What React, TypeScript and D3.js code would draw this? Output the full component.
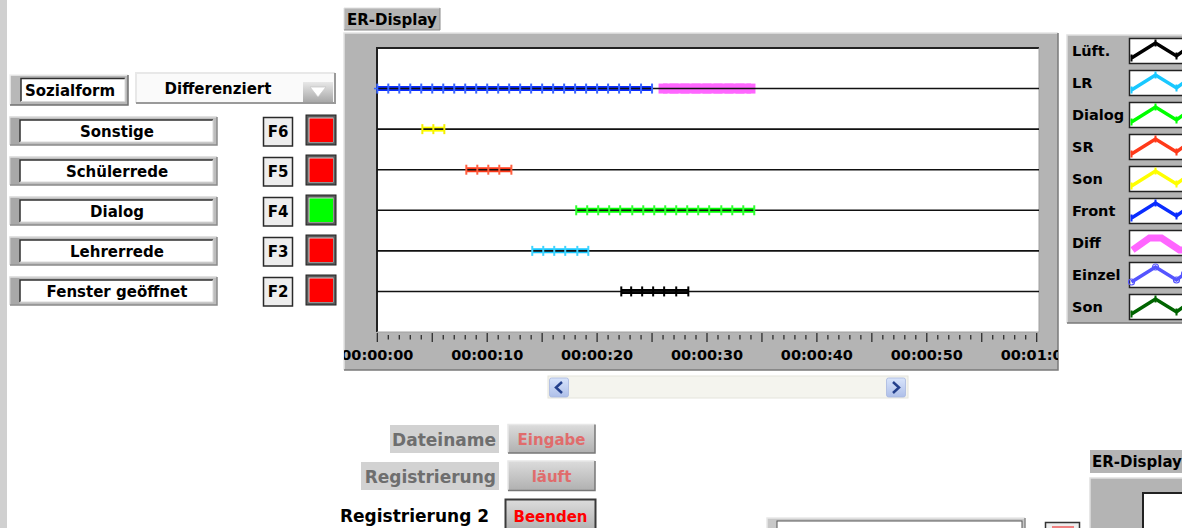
import React from "react";
import * as d3 from "d3";

// ---------- data ----------
const timeTicks = [0, 10, 20, 30, 40, 50, 60];
const timeTickLabels = ["00:00:00", "00:00:10", "00:00:20", "00:00:30", "00:00:40", "00:00:50", "00:01:00"];

// row levels (y value) of each category in the ER display
const levelFront = 6;
const levelSon = 5;
const levelSR = 4;
const levelDialog = 3;
const levelLR = 2;
const levelLueft = 1;
const rowLevels = [1, 2, 3, 4, 5, 6];

// sample times (seconds) of each active category
const frontTimes = [0, 1, 2, 3, 4, 5, 6, 7, 8, 9, 10, 11, 12, 13, 14, 15, 16, 17, 18, 19, 20, 21, 22, 23, 24, 25];
const diffTimes = [26, 27, 28, 29, 30, 31, 32, 33, 34];
const sonTimes = [4.1, 5.1, 6.1];
const srTimes = [8.1, 9.1, 10.1, 11.1, 12.2];
const dialogTimes = [18.1, 19.1, 20.1, 21.1, 22.1, 23.2, 24.2, 25.2, 26.2, 27.2, 28.2, 29.2, 30.2, 31.3, 32.3, 33.3, 34.3];
const lrTimes = [14.1, 15.1, 16.1, 17.1, 18.2, 19.2];
const lueftTimes = [22.2, 23.1, 24.1, 25.1, 26.1, 27.2, 28.3];

const legendNames = ["Lüft.", "LR", "Dialog", "SR", "Son", "Front", "Diff", "Einzel", "Son"];
const legendColors = ["#000000", "#19c8ff", "#00ff00", "#ff3a1a", "#ffff00", "#0a2cff", "#ff66ff", "#5555ff", "#006400"];

const buttonNames = ["Sonstige", "Schülerrede", "Dialog", "Lehrerrede", "Fenster geöffnet"];
const buttonKeys = ["F6", "F5", "F4", "F3", "F2"];
const buttonOn = [false, false, true, false, false];

const FONT = "'DejaVu Sans', Verdana, sans-serif";

const x = d3.scaleLinear().domain([0, 60]).range([377.3, 1036.7]);
const y = d3.scaleLinear().domain([0, 7]).range([332, 48]);
const minorTicks = d3.range(0, 61, 1);

type Series = { times: number[]; level: number; color: string; marker: string; width: number };
const series: Series[] = [
  { times: frontTimes, level: levelFront, color: "#0a2cff", marker: "#3a66ff", width: 5 },
  { times: sonTimes, level: levelSon, color: "#ffff00", marker: "#f4f000", width: 5 },
  { times: srTimes, level: levelSR, color: "#ff3a1a", marker: "#ff6040", width: 5 },
  { times: dialogTimes, level: levelDialog, color: "#00ff00", marker: "#30ff30", width: 5 },
  { times: lrTimes, level: levelLR, color: "#19c8ff", marker: "#40d4ff", width: 5 },
  { times: lueftTimes, level: levelLueft, color: "#000000", marker: "#000000", width: 5 },
];

const line = d3
  .line<number>()
  .x((d) => x(d))
  .y(() => 0);

function Bevel({ x0, y0, w, h, fill, light = "#f0f0f0", dark = "#707070", sw = 1.5 }: any) {
  return (
    <g>
      <rect x={x0} y={y0} width={w} height={h} fill={fill} />
      <path d={`M${x0},${y0 + h} V${y0} H${x0 + w}`} stroke={light} strokeWidth={sw} fill="none" />
      <path d={`M${x0 + w},${y0} V${y0 + h} H${x0}`} stroke={dark} strokeWidth={sw} fill="none" />
    </g>
  );
}

function Sunken({ x0, y0, w, h, fill }: any) {
  return (
    <g>
      <rect x={x0} y={y0} width={w} height={h} fill={fill} />
      <path d={`M${x0},${y0 + h} V${y0} H${x0 + w}`} stroke="#303030" strokeWidth={1.5} fill="none" />
      <path d={`M${x0 + w},${y0} V${y0 + h} H${x0}`} stroke="#d8d8d8" strokeWidth={1} fill="none" />
    </g>
  );
}

export default function App() {
  const legendGlyph = [
    [2, 20],
    [26, 5],
    [47, 18],
    [55, 12],
    [64, 7],
  ];
  const glyphLine = d3
    .line<number[]>()
    .x((d) => d[0])
    .y((d) => d[1]);

  return (
    <svg
      width={1182}
      height={528}
      style={{ position: "absolute", left: 0, top: 0, background: "#ffffff" }}
      fontFamily={FONT}
    >
      <defs>
        <clipPath id="frameClip">
          <rect x={344} y={33} width={714} height={337} />
        </clipPath>
        <clipPath id="legendClip">
          <rect x={1066} y={30} width={116} height={300} />
        </clipPath>
        <linearGradient id="btnGrad" x1="0" y1="0" x2="0" y2="1">
          <stop offset="0" stopColor="#dcdcdc" />
          <stop offset="1" stopColor="#b0b0b0" />
        </linearGradient>
        <linearGradient id="arrowGrad" x1="0" y1="0" x2="0" y2="1">
          <stop offset="0" stopColor="#e8e8e8" />
          <stop offset="1" stopColor="#a8a8a8" />
        </linearGradient>
        <linearGradient id="scrollBtn" x1="0" y1="0" x2="0" y2="1">
          <stop offset="0" stopColor="#d8e4fb" />
          <stop offset="1" stopColor="#aebfe9" />
        </linearGradient>
      </defs>

      {/* left window strip */}
      <rect x={0} y={0} width={7} height={528} fill="#d0d0d0" />

      {/* ---------- left control panel ---------- */}
      <Bevel x0={10} y0={75} w={118} h={30} fill="#b8b8b8" />
      <Sunken x0={21} y0={78.5} w={104} h={23} fill="#ffffff" />
      <text x={70} y={95.5} fontSize={15} fontWeight="bold" textAnchor="middle" fill="#000">
        Sozialform
      </text>

      <Bevel x0={136} y0={73} w={199} h={30} fill="#fafafa" light="#e8e8e8" dark="#9a9a9a" sw={2} />
      <text x={218} y={94} fontSize={15} fontWeight="bold" textAnchor="middle" fill="#000">
        Differenziert
      </text>
      <rect x={303} y={82} width={30} height={20} fill="url(#arrowGrad)" />
      <path d="M310,87 L326,87 L318,97 Z" fill="#ffffff" stroke="#c8c8c8" strokeWidth={0.8} />

      {buttonNames.map((name, i) => {
        const top = 117 + i * 40;
        return (
          <g key={name}>
            <Bevel x0={10} y0={top} w={207} h={28} fill="#bdbdbd" light="#d8d8d8" dark="#8a8a8a" />
            <rect x={10.5} y={top + 1} width={9} height={26} fill="#a8a8a8" />
            <Sunken x0={20} y0={top + 3} w={193} h={22} fill="#ffffff" />
            <text x={117} y={top + 19.5} fontSize={15} fontWeight="bold" textAnchor="middle" fill="#000">
              {name}
            </text>
            <rect x={263.5} y={top + 0.5} width={29} height={28.5} fill="#eeeeee" stroke="#2a2a2a" strokeWidth={1.5} />
            <text x={278} y={top + 20} fontSize={15} fontWeight="bold" textAnchor="middle" fill="#000">
              {buttonKeys[i]}
            </text>
            <rect x={306} y={top - 2} width={30} height={30} fill="#5a5a5a" stroke="#222" strokeWidth={1} />
            <rect x={308.5} y={top + 0.5} width={25} height={25} fill="#d0d0d0" />
            <rect x={309.5} y={top + 1.5} width={23.5} height={23.5} fill={buttonOn[i] ? "#00ff00" : "#ff0000"} />
          </g>
        );
      })}

      {/* ---------- ER-Display graph ---------- */}
      <Bevel x0={344} y0={8} w={96} h={22} fill="#b4b4b4" light="#e0e0e0" dark="#8a8a8a" sw={1} />
      <text x={347} y={25} fontSize={15} fontWeight="bold" fill="#000">
        ER-Display
      </text>

      <Bevel x0={344} y0={33} w={714} h={337} fill="#b4b4b4" light="#e4e4e4" dark="#7a7a7a" sw={1.5} />
      <rect x={377} y={48} width={662} height={284} fill="#ffffff" />
      <path d="M377,332 V48 H1039" stroke="#222" strokeWidth={2} fill="none" />
      <path d="M1039,48 V332 H377" stroke="#a0a0a0" strokeWidth={1} fill="none" />

      {/* series lines */}
      {series.map((s, i) => (
        <path
          key={"ln" + i}
          d={line(s.times) || ""}
          transform={`translate(0,${y(s.level)})`}
          stroke={s.color}
          strokeWidth={s.width}
          fill="none"
        />
      ))}
      {/* Diff band */}
      <path
        d={line(diffTimes) || ""}
        transform={`translate(0,${y(levelFront)})`}
        stroke="#ff66ff"
        strokeWidth={10}
        fill="none"
      />
      {diffTimes.map((t, j) => (
        <rect key={"dq" + j} x={x(t) - 4.5} y={y(levelFront) - 5} width={9} height={10} fill="#ff66ff" />
      ))}

      {/* row base lines */}
      {rowLevels.map((r) => (
        <line key={"row" + r} x1={377} x2={1039} y1={y(r)} y2={y(r)} stroke="#111" strokeWidth={1.6} />
      ))}

      {/* markers */}
      {series.map((s, i) => (
        <g key={"mk" + i}>
          {s.times.map((t, j) => (
            <line
              key={j}
              x1={x(t)}
              x2={x(t)}
              y1={y(s.level) - 5}
              y2={y(s.level) + 5}
              stroke={s.marker}
              strokeWidth={2}
            />
          ))}
        </g>
      ))}
      <line x1={374} x2={378} y1={y(levelFront)} y2={y(levelFront)} stroke="#3a66ff" strokeWidth={1.5} />

      {/* x axis */}
      {minorTicks.map((t) => (
        <line
          key={"tk" + t}
          x1={x(t)}
          x2={x(t)}
          y1={t % 5 === 0 ? 333 : 335}
          y2={t % 5 === 0 ? 342 : 339.5}
          stroke="#222"
          strokeWidth={1.2}
        />
      ))}
      <g clipPath="url(#frameClip)">
        {timeTicks.map((t, i) => (
          <text key={"tl" + t} x={x(t)} y={359.5} fontSize={14.5} fontWeight="bold" textAnchor="middle" fill="#000">
            {timeTickLabels[i]}
          </text>
        ))}
      </g>

      {/* scrollbar */}
      <rect x={548} y={376} width={360} height={22} fill="#f4f4ee" stroke="#e4e4dc" strokeWidth={1} />
      <rect x={549.5} y={378} width={19} height={19} rx={2} fill="url(#scrollBtn)" stroke="#a8b8e0" strokeWidth={0.8} />
      <path d="M562,382 L556,387.5 L562,393" stroke="#24408c" strokeWidth={2.5} fill="none" />
      <rect x={886.5} y={378} width={19} height={19} rx={2} fill="url(#scrollBtn)" stroke="#a8b8e0" strokeWidth={0.8} />
      <path d="M893,382 L899,387.5 L893,393" stroke="#24408c" strokeWidth={2.5} fill="none" />

      {/* ---------- legend ---------- */}
      <Bevel x0={1067} y0={35} w={130} h={288} fill="#b4b4b4" light="#e0e0e0" dark="#7a7a7a" sw={1.5} />
      <g clipPath="url(#legendClip)">
        {legendNames.map((name, i) => {
          const top = 38 + i * 32;
          const c = legendColors[i];
          return (
            <g key={"lg" + i}>
              <text x={1072} y={top + 17.5} fontSize={14.5} fontWeight="bold" fill="#000">
                {name}
              </text>
              <rect x={1129.5} y={top + 0.5} width={70} height={25} fill="#ffffff" stroke="#222" strokeWidth={1.5} />
              <g transform={`translate(1129.5,${top})`}>
                {i === 6 ? (
                  <path
                    d={glyphLine([[3, 20], [20, 8], [32, 8], [50, 20], [64, 20]]) || ""}
                    stroke={c}
                    strokeWidth={7}
                    fill="none"
                  />
                ) : (
                  <path d={glyphLine(legendGlyph) || ""} stroke={c} strokeWidth={3.5} fill="none" />
                )}
                {i === 7
                  ? legendGlyph.map((p, k) => <circle key={k} cx={p[0]} cy={p[1]} r={3} fill="none" stroke={c} strokeWidth={1.2} />)
                  : i !== 6
                  ? legendGlyph.map((p, k) => (
                      <line key={k} x1={p[0]} x2={p[0]} y1={p[1] - 3.5} y2={p[1] + 3.5} stroke={c} strokeWidth={2} />
                    ))
                  : null}
              </g>
            </g>
          );
        })}
      </g>

      {/* ---------- bottom controls ---------- */}
      <rect x={390} y={425} width={109} height={28} fill="#d2d2d2" />
      <text x={496} y={446} fontSize={17} fontWeight="bold" textAnchor="end" fill="#6e6e6e">
        Dateiname
      </text>
      <Bevel x0={508} y0={424.5} w={87} h={28.5} fill="url(#btnGrad)" light="#e8e8e8" dark="#777" sw={1.5} />
      <text x={551.5} y={444.5} fontSize={15} fontWeight="bold" textAnchor="middle" fill="#e06c6c">
        Eingabe
      </text>

      <rect x={361} y={462} width={138} height={28} fill="#d2d2d2" />
      <text x={496} y={483} fontSize={17} fontWeight="bold" textAnchor="end" fill="#6e6e6e">
        Registrierung
      </text>
      <Bevel x0={508} y0={461} w={87} h={29.5} fill="url(#btnGrad)" light="#e8e8e8" dark="#777" sw={1.5} />
      <text x={551.5} y={481.5} fontSize={15} fontWeight="bold" textAnchor="middle" fill="#e06c6c">
        läuft
      </text>

      <text x={340} y={522} fontSize={17} fontWeight="bold" fill="#000">
        Registrierung 2
      </text>
      <rect x={505.5} y={499.5} width={90} height={32} fill="url(#btnGrad)" stroke="#3a3a3a" strokeWidth={2} />
      <text x={550.5} y={522} fontSize={15} fontWeight="bold" textAnchor="middle" fill="#ff0000">
        Beenden
      </text>

      {/* partial widgets at bottom */}
      <Bevel x0={767} y0={518} w={258} h={20} fill="#c8c8c8" light="#e8e8e8" dark="#8a8a8a" />
      <rect x={777} y={521} width={245} height={10} fill="#ffffff" stroke="#555" strokeWidth={1} />
      <rect x={1045.5} y={522.5} width={34} height={10} fill="#eeeeee" stroke="#333" strokeWidth={1.5} />
      <rect x={1052} y={526} width={22} height={6} fill="#f08080" />

      <rect x={1090} y={450} width={100} height={23} fill="#b4b4b4" />
      <text x={1092} y={467} fontSize={15} fontWeight="bold" fill="#000">
        ER-Display
      </text>
      <Bevel x0={1090} y0={478} w={100} h={60} fill="#b4b4b4" light="#e0e0e0" dark="#7a7a7a" />
      <rect x={1143} y={493} width={50} height={40} fill="#ffffff" />
      <path d="M1143,533 V493 H1190" stroke="#222" strokeWidth={2} fill="none" />
    </svg>
  );
}
